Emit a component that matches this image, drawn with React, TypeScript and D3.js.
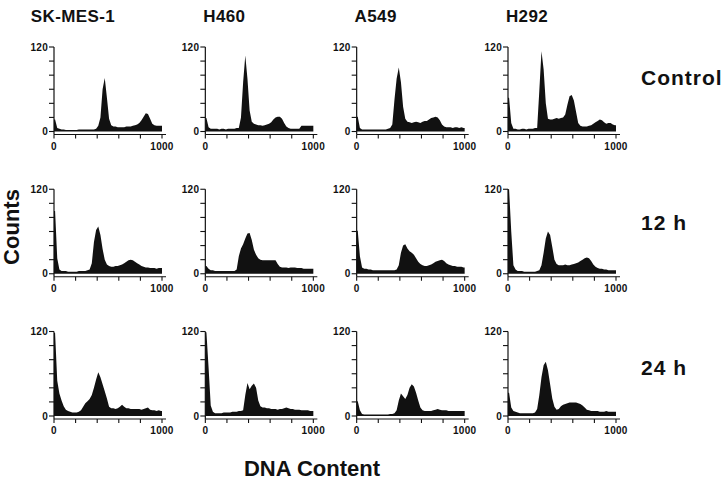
import React from "react";
import * as d3 from "d3";

// cell lines (columns) and treatment times (rows)
const cellLines = ["SK-MES-1", "H460", "A549", "H292"];
const treatments = ["Control", "12 h", "24 h"];

// DNA content channels, 50 bins of 20 units each
const binWidth = 20;
const xTicks = [0, 200, 400, 600, 800, 1000];
const yTicks = [0, 20, 40, 60, 80, 100, 120];

// counts per bin
const skmes1Control = [17, 5, 4, 3, 3, 2, 2, 2, 2, 2, 2, 3, 3, 3, 3, 3, 3, 3, 3, 4, 8, 20, 60, 76, 48, 18, 9, 7, 7, 6, 6, 6, 6, 7, 7, 7, 8, 9, 10, 12, 16, 21, 26, 25, 18, 11, 9, 8, 8, 8];
const h460Control = [19, 6, 4, 4, 4, 4, 3, 4, 4, 3, 4, 4, 4, 4, 5, 5, 20, 70, 108, 75, 30, 14, 11, 10, 9, 9, 8, 9, 10, 11, 13, 17, 20, 21, 21, 18, 12, 7, 5, 4, 4, 4, 4, 4, 8, 8, 8, 8, 8, 8];
const a549Control = [21, 5, 3, 3, 3, 3, 3, 3, 3, 3, 3, 3, 3, 3, 4, 5, 10, 45, 75, 91, 70, 35, 18, 14, 13, 12, 13, 14, 13, 12, 14, 15, 15, 17, 19, 20, 21, 20, 16, 10, 7, 6, 6, 6, 5, 6, 6, 5, 6, 5];
const h292Control = [48, 12, 4, 4, 3, 3, 4, 4, 3, 4, 4, 4, 5, 5, 58, 114, 88, 40, 18, 17, 17, 18, 19, 18, 19, 20, 24, 38, 50, 52, 44, 28, 12, 8, 7, 7, 7, 8, 9, 11, 13, 15, 17, 16, 13, 11, 12, 12, 10, 9];

const skmes1At12h = [89, 22, 6, 4, 4, 4, 3, 3, 3, 3, 3, 4, 4, 4, 4, 5, 6, 15, 45, 62, 67, 55, 35, 20, 13, 11, 10, 10, 11, 11, 12, 13, 15, 17, 19, 20, 19, 17, 15, 13, 11, 10, 9, 9, 8, 8, 8, 7, 8, 8];
const h460At12h = [11, 7, 5, 5, 4, 4, 4, 4, 4, 4, 4, 4, 4, 4, 6, 25, 36, 42, 50, 57, 58, 48, 34, 27, 22, 20, 19, 19, 19, 19, 19, 19, 19, 14, 10, 9, 9, 9, 8, 9, 9, 9, 8, 8, 8, 7, 7, 7, 7, 7];
const a549At12h = [61, 25, 9, 7, 7, 6, 6, 5, 5, 5, 5, 5, 5, 5, 5, 5, 5, 5, 6, 12, 30, 40, 42, 36, 32, 30, 27, 22, 17, 14, 12, 11, 11, 12, 13, 15, 17, 18, 19, 20, 18, 15, 13, 12, 11, 11, 10, 10, 10, 9];
const h292At12h = [120, 60, 12, 6, 4, 4, 4, 3, 3, 3, 3, 3, 3, 4, 5, 12, 30, 50, 60, 55, 38, 20, 14, 12, 12, 12, 13, 12, 12, 13, 14, 15, 16, 18, 20, 22, 23, 22, 18, 13, 10, 8, 7, 7, 6, 6, 5, 5, 5, 5];

const skmes1At24h = [118, 50, 32, 22, 14, 9, 7, 6, 5, 5, 5, 6, 8, 13, 18, 21, 24, 30, 40, 52, 62, 55, 45, 35, 25, 13, 11, 11, 10, 11, 13, 16, 13, 11, 11, 10, 10, 10, 10, 10, 9, 10, 11, 12, 9, 8, 8, 7, 8, 7];
const h460At24h = [119, 69, 15, 6, 4, 4, 4, 4, 5, 5, 5, 5, 6, 6, 6, 7, 7, 8, 30, 47, 38, 43, 46, 40, 22, 14, 12, 12, 11, 11, 10, 10, 10, 9, 10, 10, 11, 12, 11, 10, 10, 9, 9, 9, 8, 8, 8, 8, 7, 7];
const a549At24h = [21, 8, 3, 2, 2, 2, 2, 2, 2, 2, 2, 2, 2, 2, 2, 3, 3, 4, 8, 22, 32, 28, 24, 30, 40, 45, 42, 33, 22, 12, 8, 7, 7, 7, 7, 8, 9, 10, 9, 8, 8, 8, 7, 7, 7, 7, 7, 7, 7, 7];
const h292At24h = [33, 12, 7, 6, 5, 4, 4, 4, 4, 4, 4, 4, 5, 10, 30, 55, 72, 77, 65, 45, 25, 13, 9, 10, 14, 16, 17, 18, 19, 19, 19, 19, 18, 17, 15, 12, 9, 8, 7, 7, 7, 7, 6, 6, 6, 7, 6, 6, 6, 6];

const histograms = [
  [skmes1Control, h460Control, a549Control, h292Control],
  [skmes1At12h, h460At12h, a549At12h, h292At12h],
  [skmes1At24h, h460At24h, a549At24h, h292At24h],
];

const W = 726;
const H = 481;
const panelW = 108;
const panelH = 84.5;
const font = "'Liberation Sans', Arial, Helvetica, sans-serif";
const ink = "#111";

const colScale = d3.scaleLinear().domain([0, 3]).range([54, 508]);
const rowScale = d3.scaleLinear().domain([0, 2]).range([47, 331.5]);
const rowLabelScale = d3.scaleLinear().domain([0, 2]).range([85, 375]);

const Histogram = ({ counts, x0, y0 }: { counts: number[]; x0: number; y0: number }) => {
  const x = d3.scaleLinear().domain([0, 1000]).range([0, panelW]);
  const y = d3.scaleLinear().domain([0, 120]).range([panelH, 0]).clamp(true);
  // points at bin centres, with the first and last bins held out to the edges
  const pts: [number, number][] = counts.map((c, i) => [i * binWidth + binWidth / 2, c]);
  pts.unshift([0, counts[0]]);
  pts.push([counts.length * binWidth, counts[counts.length - 1]]);
  const area = d3.area<[number, number]>()
    .x(d => x(d[0]))
    .y0(y(0))
    .y1(d => y(d[1]))
    .curve(d3.curveLinear);
  const axisY = y(0) + 3;
  const lbl = { fontSize: 10, fontWeight: "bold", fontFamily: font, fill: ink, letterSpacing: 0.3 } as const;

  return (
    <g transform={`translate(${x0}, ${y0})`}>
      <path d={area(pts) || ""} fill={ink} />
      {/* y axis */}
      <line x1={0} x2={0} y1={y(120)} y2={axisY} stroke={ink} strokeWidth={1.2} />
      {yTicks.map(t => (
        <line key={t} x1={-5} x2={0} y1={y(t)} y2={y(t)} stroke={ink} strokeWidth={1.1} />
      ))}
      <text x={-6} y={y(120) + 3.5} textAnchor="end" {...lbl}>120</text>
      <text x={-6} y={y(0) + 3.5} textAnchor="end" {...lbl}>0</text>
      {/* x axis */}
      <line x1={0} x2={panelW + 4} y1={axisY} y2={axisY} stroke={ink} strokeWidth={1.2} />
      {xTicks.map(t => (
        <line key={t} x1={x(t)} x2={x(t)} y1={axisY} y2={axisY + 4} stroke={ink} strokeWidth={1.1} />
      ))}
      <text x={x(0)} y={axisY + 15} textAnchor="middle" {...lbl}>0</text>
      <text x={x(1000)} y={axisY + 15} textAnchor="middle" {...lbl}>1000</text>
    </g>
  );
};

const App = () => {
  return (
    <svg width={W} height={H} style={{ position: "absolute", left: 0, top: 0, background: "#fff" }}>
      {cellLines.map((name, c) => (
        <text key={name} x={colScale(c) + 19} y={22} textAnchor="middle" fontSize={17} fontWeight="bold" fontFamily={font} fill={ink} letterSpacing={0.4}>{name}</text>
      ))}
      {treatments.map((name, r) => (
        <text key={name} x={641} y={rowLabelScale(r)} fontSize={21} fontWeight="bold" fontFamily={font} fill={ink} letterSpacing={1}>{name}</text>
      ))}
      {histograms.map((row, r) =>
        row.map((counts, c) => (
          <Histogram key={`${r}-${c}`} counts={counts} x0={colScale(c)} y0={rowScale(r)} />
        ))
      )}
      <text transform="translate(19, 227) rotate(-90)" textAnchor="middle" fontSize={22} fontWeight="bold" fontFamily={font} fill={ink}>Counts</text>
      <text x={312} y={476} textAnchor="middle" fontSize={22} fontWeight="bold" fontFamily={font} fill={ink}>DNA Content</text>
    </svg>
  );
};

export default App;
